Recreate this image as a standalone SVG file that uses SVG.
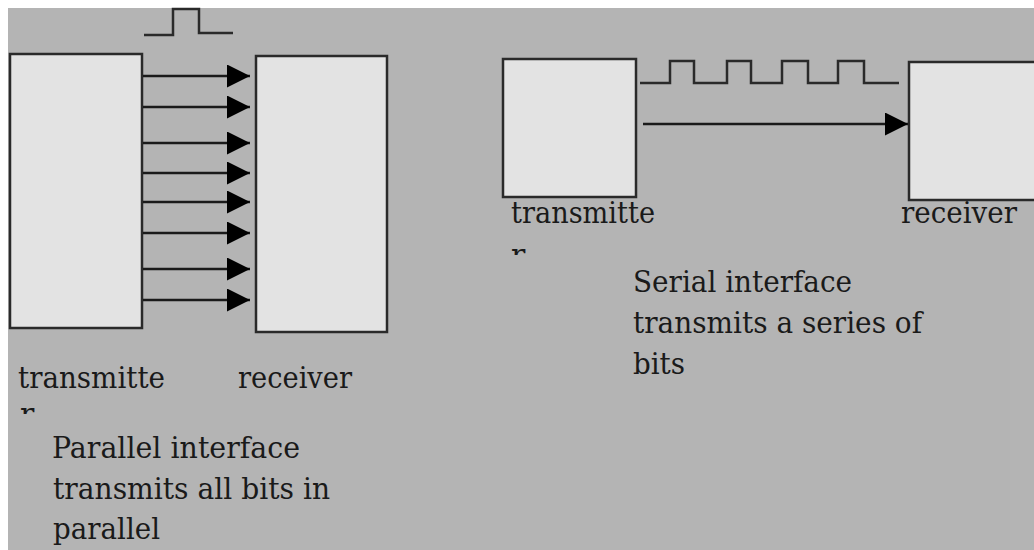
<svg xmlns="http://www.w3.org/2000/svg" width="1034" height="550" viewBox="0 0 1034 550">
  <style>
    .box { fill: #e3e3e3; stroke: #2a2a2a; stroke-width: 2.5; }
    .wire { fill: none; stroke: #1a1a1a; stroke-width: 2.5; }
    .sig { fill: none; stroke: #2a2a2a; stroke-width: 2.5; }
    .lbl { font-family: 'DejaVu Serif', 'Liberation Serif', serif; font-size: 30px; fill: #1a1a1a; }
  </style>
  <defs>
    <marker id="head" markerUnits="userSpaceOnUse" markerWidth="24" markerHeight="24" refX="23" refY="11.5" orient="auto">
      <path d="M0,0 L23,11.5 L0,23 z" fill="#000"/>
    </marker>
    <clipPath id="cutL"><rect x="10" y="404" width="40" height="10"/></clipPath>
    <clipPath id="cutR"><rect x="500" y="245" width="40" height="10"/></clipPath>
  </defs>

  <!-- page -->
  <rect x="0" y="0" width="1034" height="550" fill="#ffffff"/>
  <rect x="8" y="8" width="1026" height="542" fill="#b4b4b4"/>

  <!-- parallel link -->
  <g id="par-transmitter">
    <rect class="box" x="10" y="54" width="132" height="274"/>
    <text class="lbl" x="18" y="388" textLength="147" lengthAdjust="spacingAndGlyphs">transmitte</text>
    <text class="lbl" x="20" y="424" clip-path="url(#cutL)">r</text>
  </g>
  <g id="par-receiver">
    <rect class="box" x="256" y="56" width="131" height="276"/>
    <text class="lbl" x="238" y="388" textLength="114" lengthAdjust="spacingAndGlyphs">receiver</text>
  </g>
  <g id="par-pulse">
    <path class="sig" d="M144,35 H173 V9 H199 V33 H233"/>
  </g>
  <g id="par-caption">
    <text class="lbl" x="52" y="458" textLength="248" lengthAdjust="spacingAndGlyphs">Parallel interface</text>
    <text class="lbl" x="53" y="499" textLength="277" lengthAdjust="spacingAndGlyphs">transmits all bits in</text>
    <text class="lbl" x="53" y="539" textLength="107" lengthAdjust="spacingAndGlyphs">parallel</text>
  </g>

  <!-- serial link -->
  <g id="ser-transmitter">
    <rect class="box" x="503" y="59" width="133" height="138"/>
    <text class="lbl" x="511" y="223" textLength="144" lengthAdjust="spacingAndGlyphs">transmitte</text>
    <text class="lbl" x="511" y="265" clip-path="url(#cutR)">r</text>
  </g>
  <g id="ser-receiver">
    <rect class="box" x="909" y="62" width="140" height="138"/>
    <text class="lbl" x="901" y="223" textLength="116" lengthAdjust="spacingAndGlyphs">receiver</text>
  </g>
  <g id="ser-pulse">
    <path class="sig" d="M640,83 H670 V61 H694 V83 H727 V61 H751 V83 H782 V61 H808 V83 H838 V61 H864 V83 H899"/>
  </g>
  <g id="ser-caption">
    <text class="lbl" x="633" y="292" textLength="219" lengthAdjust="spacingAndGlyphs">Serial interface</text>
    <text class="lbl" x="633" y="333" textLength="289" lengthAdjust="spacingAndGlyphs">transmits a series of</text>
    <text class="lbl" x="633" y="374" textLength="52" lengthAdjust="spacingAndGlyphs">bits</text>
  </g>

  <!-- connectors -->
  <g id="connectors">
    <line class="wire" x1="143" y1="76" x2="250" y2="76" marker-end="url(#head)"/>
    <line class="wire" x1="143" y1="107" x2="250" y2="107" marker-end="url(#head)"/>
    <line class="wire" x1="143" y1="143" x2="250" y2="143" marker-end="url(#head)"/>
    <line class="wire" x1="143" y1="173" x2="250" y2="173" marker-end="url(#head)"/>
    <line class="wire" x1="143" y1="202" x2="250" y2="202" marker-end="url(#head)"/>
    <line class="wire" x1="143" y1="233" x2="250" y2="233" marker-end="url(#head)"/>
    <line class="wire" x1="143" y1="269" x2="250" y2="269" marker-end="url(#head)"/>
    <line class="wire" x1="143" y1="300" x2="250" y2="300" marker-end="url(#head)"/>
    <line class="wire" x1="643" y1="124" x2="908" y2="124" marker-end="url(#head)"/>
  </g>
</svg>
